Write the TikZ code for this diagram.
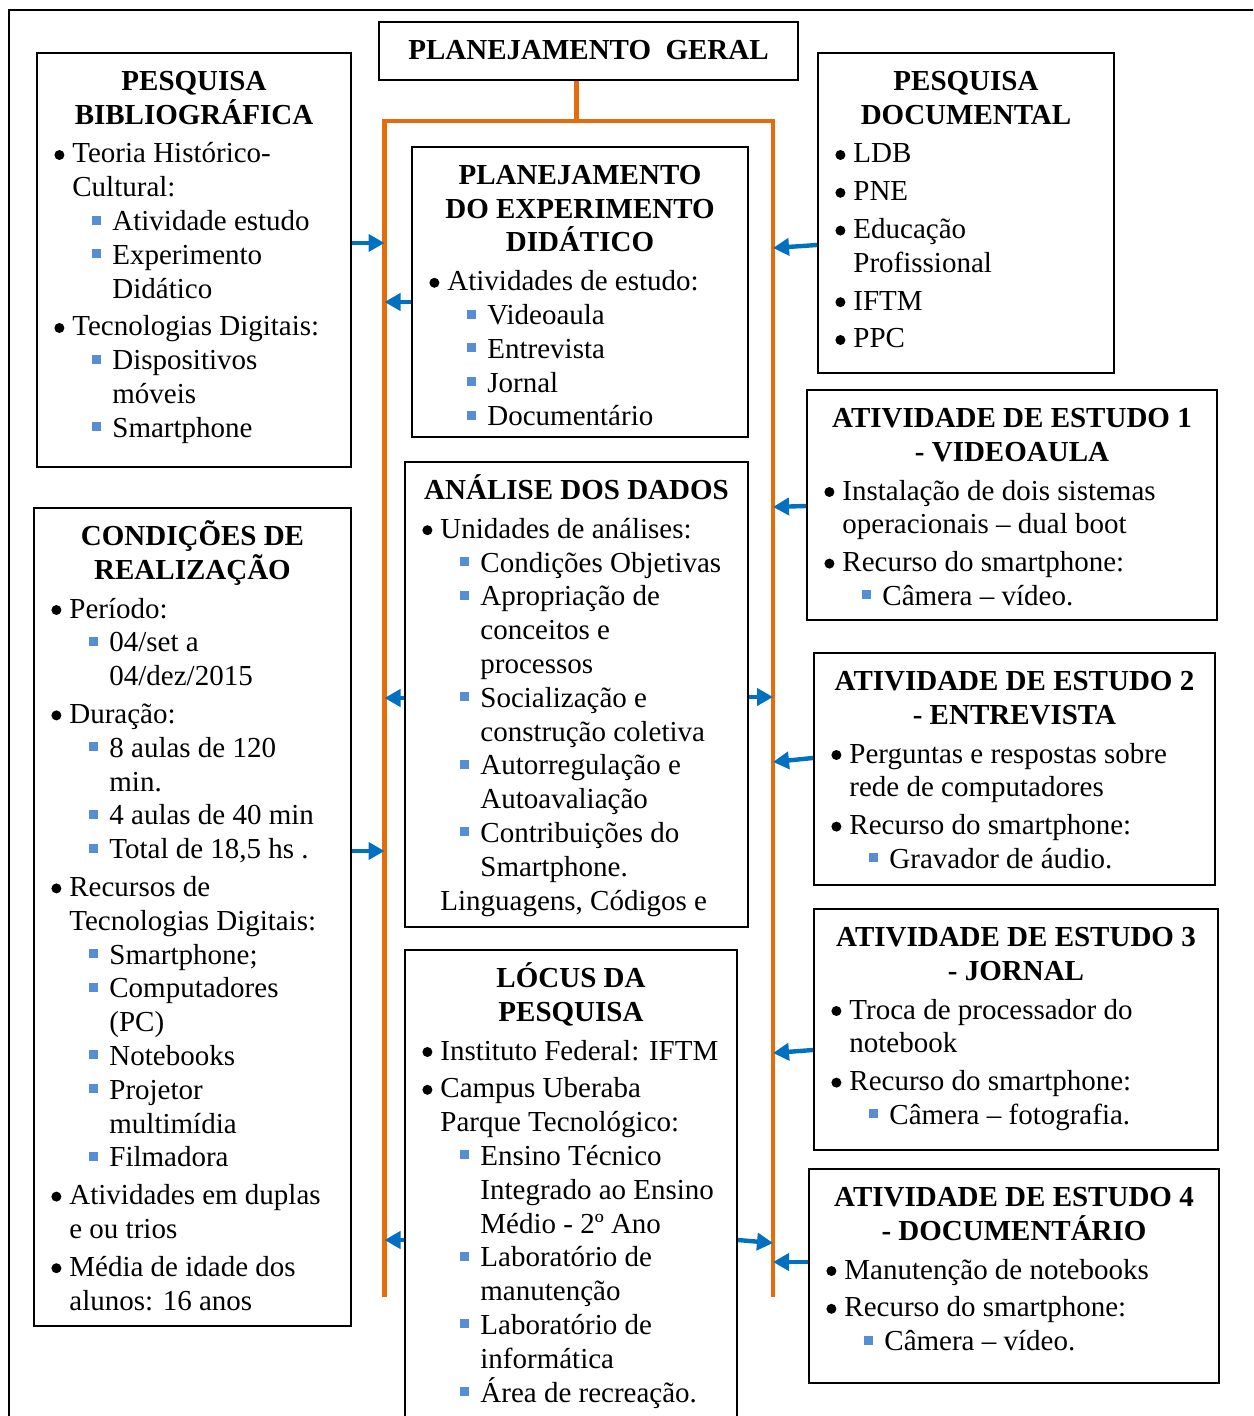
\documentclass[tikz,border=0pt]{standalone}
\usepackage{fontspec}
\setmainfont{Liberation Serif}
\usetikzlibrary{arrows.meta, positioning, fit}
\definecolor{pillarorange}{RGB}{228,108,10}
\definecolor{flowblue}{RGB}{0,112,192}
\definecolor{markblue}{RGB}{85,142,213}

% line helpers for the lists
\newcommand{\hstrut}{\rule{0pt}{15pt}}
\newcommand{\dstrut}{\rule[-4pt]{0pt}{4pt}}
\newcommand{\dotmark}{\tikz[baseline=-4pt]\fill (0,0) circle (2.5pt);}
\newcommand{\sqmark}{\textcolor{markblue}{\rule[3pt]{4.5pt}{4.5pt}}}
\newcommand{\itemA}[1]{\makebox[18pt][l]{\hspace{9pt}\dotmark}#1}
\newcommand{\contA}[1]{\hspace*{18pt}#1}
\newcommand{\itemB}[1]{\makebox[38pt][l]{\hspace{28pt}\sqmark}#1}
\newcommand{\contB}[1]{\hspace*{38pt}#1}

\begin{document}
\begin{tikzpicture}[x=0.5pt, y=-0.5pt,
    box/.style={draw=black, line width=1pt, inner sep=0pt},
    head/.style={font=\fontsize{14.5pt}{16.9pt}\selectfont\bfseries, align=center, anchor=north, inner sep=0pt},
    list/.style={font=\fontsize{14.5pt}{16.9pt}\selectfont, align=left, anchor=north west, inner sep=0pt},
    pillar/.style={draw=pillarorange, line width=2.4pt, line join=miter},
    flow/.style={draw=flowblue, line width=2.2pt, -{Triangle[length=8pt, width=8.5pt]}}]
    \useasboundingbox (0,0) rectangle (1253,1416);
    \clip (0,0) rectangle (1253,1416);

    % Outer frame
    \draw[line width=1pt] (8.5,10) rectangle (1290,1450);

    % Boxes
    \node[box, fit={(379,22) (798,80)}] (geral) {};
    \node[box, fit={(37,53) (351,467)}] (bib) {};
    \node[box, fit={(412,147) (748,437)}] (plan) {};
    \node[box, fit={(818,53) (1114,373)}] (doc) {};
    \node[box, fit={(807,390) (1217,620)}] (atv1) {};
    \node[box, fit={(405,462) (748,927)}] (anal) {};
    \node[box, fit={(34,508) (351,1326)}] (cond) {};
    \node[box, fit={(814,653) (1215,885)}] (atv2) {};
    \node[box, fit={(814,909) (1218,1150)}] (atv3) {};
    \node[box, fit={(405,950) (737,1440)}] (locus) {};
    \node[box, fit={(809,1169) (1219,1383)}] (atv4) {};

    % Orange frame
    \coordinate (LT) at (384.5,121);
    \coordinate (RT) at (773,121);
    \coordinate (LB) at (384.5,1297);
    \coordinate (RB) at (773,1297);
    \coordinate (ST) at (576.5,121);
    \draw[pillar] (LB) -- (LT) -- (RT) -- (RB);
    \draw[pillar] (ST |- geral.south) -- (ST);

    % Titles
    \node[head] (gerall) at ([yshift=-4pt]geral.north) {\hstrut PLANEJAMENTO\ \ GERAL\dstrut};
    \node[head] (bibT) at ([yshift=-4pt]bib.north) {\hstrut PESQUISA\\BIBLIOGRÁFICA\dstrut};
    \node[head] (planT) at ([yshift=-4pt]plan.north) {\hstrut PLANEJAMENTO\\DO EXPERIMENTO\\DIDÁTICO\dstrut};
    \node[head] (docT) at ([yshift=-4pt]doc.north) {\hstrut PESQUISA\\DOCUMENTAL\dstrut};
    \node[head] (atv1T) at ([yshift=-4pt]atv1.north) {\hstrut ATIVIDADE DE ESTUDO 1\\- VIDEOAULA\dstrut};
    \node[head] (analT) at ([yshift=-4pt]anal.north) {\hstrut ANÁLISE DOS DADOS\dstrut};
    \node[head] (condT) at ([yshift=-4pt]cond.north) {\hstrut CONDIÇÕES DE\\REALIZAÇÃO\dstrut};
    \node[head] (atv2T) at ([yshift=-4pt]atv2.north) {\hstrut ATIVIDADE DE ESTUDO 2\\- ENTREVISTA\dstrut};
    \node[head] (atv3T) at ([yshift=-4pt]atv3.north) {\hstrut ATIVIDADE DE ESTUDO 3\\- JORNAL\dstrut};
    \node[head] (locusT) at ([yshift=-4pt]locus.north) {\hstrut LÓCUS DA\\PESQUISA\dstrut};
    \node[head] (atv4T) at ([yshift=-4pt]atv4.north) {\hstrut ATIVIDADE DE ESTUDO 4\\- DOCUMENTÁRIO\dstrut};

    % Lists
    \node[list] (bibL) at (bib.west |- bibT.south) {\hstrut\itemA{Teoria Histórico-}\\
      \contA{Cultural:}\\
      \itemB{Atividade estudo}\\
      \itemB{Experimento}\\
      \contB{Didático}\\[2pt]
      \itemA{Tecnologias Digitais:}\\
      \itemB{Dispositivos}\\
      \contB{móveis}\\
      \itemB{Smartphone}};
    \node[list] (planL) at (plan.west |- planT.south) {\hstrut\itemA{Atividades de estudo:}\\
      \itemB{Videoaula}\\
      \itemB{Entrevista}\\
      \itemB{Jornal}\\
      \itemB{Documentário}};
    \node[list] (docL) at (doc.west |- docT.south) {\hstrut\itemA{LDB}\\[2pt]
      \itemA{PNE}\\[2pt]
      \itemA{Educação}\\
      \contA{Profissional}\\[2pt]
      \itemA{IFTM}\\[2pt]
      \itemA{PPC}};
    \node[list] (atv1L) at (atv1.west |- atv1T.south) {\hstrut\itemA{Instalação de dois sistemas}\\
      \contA{operacionais – dual boot}\\[2pt]
      \itemA{Recurso do smartphone:}\\
      \itemB{Câmera – vídeo.}};
    \node[list] (analL) at (anal.west |- analT.south) {\hstrut\itemA{Unidades de análises:}\\
      \itemB{Condições Objetivas}\\
      \itemB{Apropriação de}\\
      \contB{conceitos e}\\
      \contB{processos}\\
      \itemB{Socialização e}\\
      \contB{construção coletiva}\\
      \itemB{Autorregulação e}\\
      \contB{Autoavaliação}\\
      \itemB{Contribuições do}\\
      \contB{Smartphone.}\\
      \contA{Linguagens, Códigos e}};
    \node[list] (condL) at (cond.west |- condT.south) {\hstrut\itemA{Período:}\\
      \itemB{04/set a}\\
      \contB{04/dez/2015}\\[2pt]
      \itemA{Duração:}\\
      \itemB{8 aulas de 120}\\
      \contB{min.}\\
      \itemB{4 aulas de 40 min}\\
      \itemB{Total de 18,5 hs .}\\[2pt]
      \itemA{Recursos de}\\
      \contA{Tecnologias Digitais:}\\
      \itemB{Smartphone;}\\
      \itemB{Computadores}\\
      \contB{(PC)}\\
      \itemB{Notebooks}\\
      \itemB{Projetor}\\
      \contB{multimídia}\\
      \itemB{Filmadora}\\[2pt]
      \itemA{Atividades em duplas}\\
      \contA{e ou trios}\\[2pt]
      \itemA{Média de idade dos}\\
      \contA{alunos: 16 anos}};
    \node[list] (atv2L) at (atv2.west |- atv2T.south) {\hstrut\itemA{Perguntas e respostas sobre}\\
      \contA{rede de computadores}\\[2pt]
      \itemA{Recurso do smartphone:}\\
      \itemB{Gravador de áudio.}};
    \node[list] (atv3L) at (atv3.west |- atv3T.south) {\hstrut\itemA{Troca de processador do}\\
      \contA{notebook}\\[2pt]
      \itemA{Recurso do smartphone:}\\
      \itemB{Câmera – fotografia.}};
    \node[list] (locusL) at (locus.west |- locusT.south) {\hstrut\itemA{Instituto Federal: IFTM}\\[2pt]
      \itemA{Campus Uberaba}\\
      \contA{Parque Tecnológico:}\\
      \itemB{Ensino Técnico}\\
      \contB{Integrado ao Ensino}\\
      \contB{Médio - 2º Ano}\\
      \itemB{Laboratório de}\\
      \contB{manutenção}\\
      \itemB{Laboratório de}\\
      \contB{informática}\\
      \itemB{Área de recreação.}};
    \node[list] (atv4L) at (atv4.west |- atv4T.south) {\hstrut\itemA{Manutenção de notebooks}\\[2pt]
      \itemA{Recurso do smartphone:}\\
      \itemB{Câmera – vídeo.}};

    % Arrows
    \draw[flow] (bib.east |- 0,243) -- (LT |- 0,243);
    \draw[flow] (plan.west |- 0,302) -- (LT |- 0,302);
    \draw[flow] (doc.west |- 0,245) -- (RT |- 0,248);
    \draw[flow] (atv1.west |- 0,506) -- (RT |- 0,507);
    \draw[flow] (anal.west |- 0,698) -- (LT |- 0,698);
    \draw[flow] (anal.east |- 0,697) -- (RT |- 0,697);
    \draw[flow] (atv2.west |- 0,758) -- (RT |- 0,762);
    \draw[flow] (cond.east |- 0,851) -- (LT |- 0,851);
    \draw[flow] (atv3.west |- 0,1050) -- (RT |- 0,1053);
    \draw[flow] (locus.west |- 0,1240) -- (LT |- 0,1240);
    \draw[flow] (locus.east |- 0,1240) -- (RT |- 0,1243);
    \draw[flow] (atv4.west |- 0,1262) -- (RT |- 0,1262);
\end{tikzpicture}
\end{document}
